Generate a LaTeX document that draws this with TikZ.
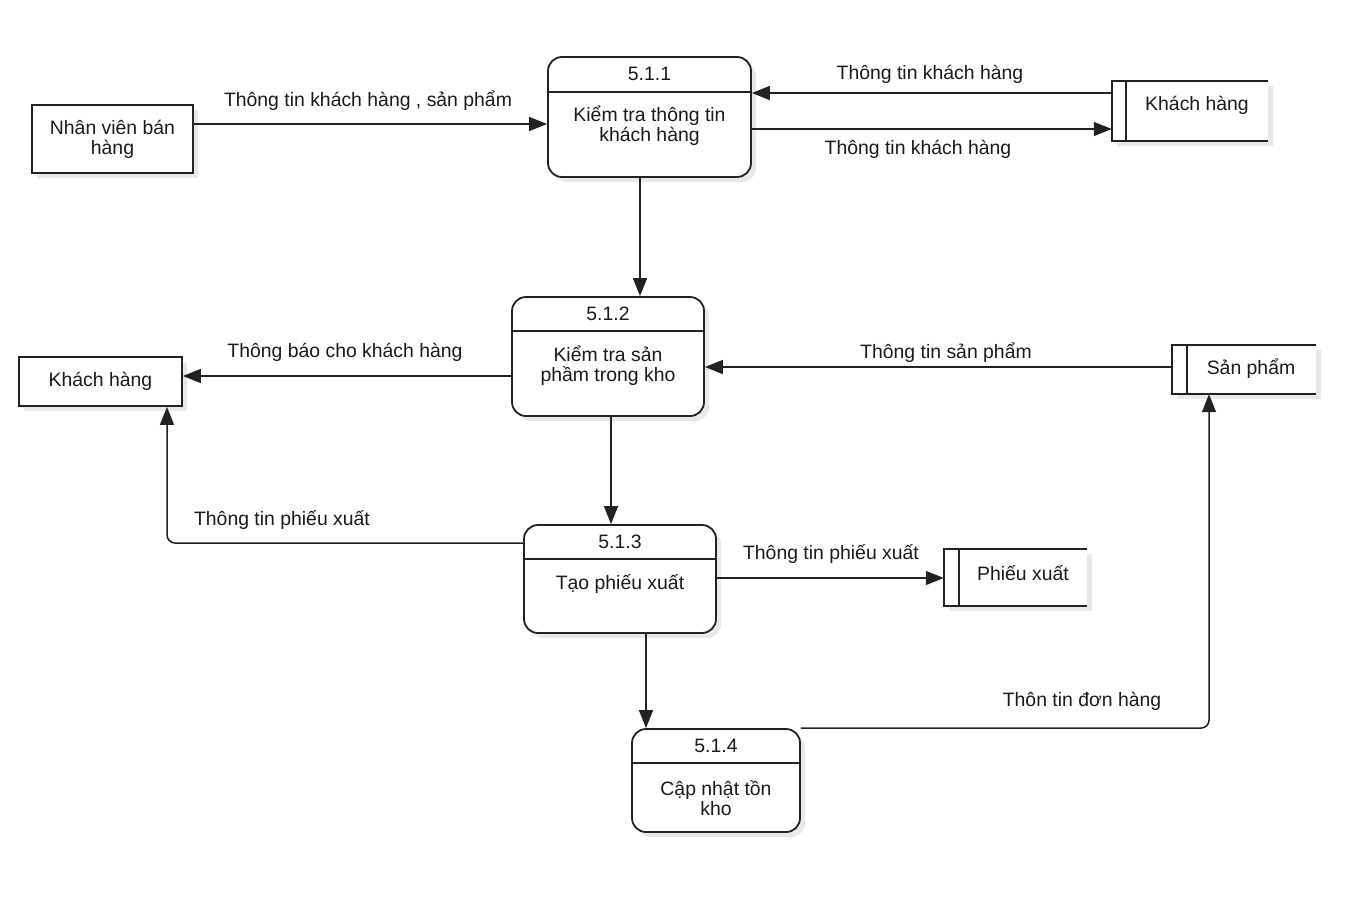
\documentclass[tikz,border=0pt]{standalone}
\usepackage{fontspec}
\setmainfont{Liberation Sans}
\usetikzlibrary{arrows.meta,shadows}
\definecolor{ink}{HTML}{222222}
\definecolor{txt}{HTML}{1A1A1A}
\begin{document}
\begin{tikzpicture}[x=1pt,y=-1pt,
  every node/.style={font=\fontsize{19.4}{20}\selectfont, text=txt},
  boxshadow/.style={drop shadow={shadow xshift=5pt, shadow yshift=-5pt, opacity=0.09, fill=black}},
  proc/.style={draw=ink, line width=1.8pt, rounded corners=14pt, fill=white, boxshadow, inner sep=0pt},
  ent/.style={draw=ink, line width=1.8pt, fill=white, boxshadow, inner sep=0pt},
  storebg/.style={fill=white, boxshadow, inner sep=0pt},
  storeline/.style={draw=ink, line width=1.8pt},
  divline/.style={draw=ink, line width=1.4pt},
  flow/.style={draw=ink, line width=1.5pt, -{Triangle[length=18pt,width=14pt]}},
  lbl/.style={inner sep=0pt, align=center},
  ptext/.style={inner sep=0pt, align=center}
]
\useasboundingbox (0,0) rectangle (1367,897);
\fill[white] (0,0) rectangle (1367,897);

% processes
\node[proc, minimum width=203pt, minimum height=120pt] (p1) at (649.5,117) {};
\node[proc, minimum width=192pt, minimum height=119pt] (p2) at (608,356.5) {};
\node[proc, minimum width=192pt, minimum height=108pt] (p3) at (620,579) {};
\node[proc, minimum width=168pt, minimum height=103pt] (p4) at (716,780.5) {};
\draw[divline] (p1.west |- 0,92) -- (p1.east |- 0,92);
\draw[divline] (p2.west |- 0,331) -- (p2.east |- 0,331);
\draw[divline] (p3.west |- 0,559) -- (p3.east |- 0,559);
\draw[divline] (p4.west |- 0,763) -- (p4.east |- 0,763);

\node[ptext] (p1n) at (649.5,74) {5.1.1};
\node[ptext] (p1t) at (649.5,126) {Kiểm tra thông tin\\khách hàng};
\node[ptext] (p2n) at (608,314) {5.1.2};
\node[ptext] (p2t) at (608,366) {Kiểm tra sản\\phầm trong kho};
\node[ptext] (p3n) at (620,542) {5.1.3};
\node[ptext] (p3t) at (620,584) {Tạo phiếu xuất};
\node[ptext] (p4n) at (716,746) {5.1.4};
\node[ptext] (p4t) at (716,798) {Cập nhật tồn\\kho};

% external entities
\node[ent, minimum width=161pt, minimum height=68pt] (nv) at (112.5,139) {};
\node[ptext] (nvt) at (112.5,139) {Nhân viên bán\\hàng};
\node[ent, minimum width=163pt, minimum height=49pt] (kl) at (100.5,381.5) {};
\node[ptext] (klt) at (100.5,381) {Khách hàng};

% data stores
\node[storebg, minimum width=156pt, minimum height=60pt] (ks) at (1190,111) {};
\draw[storeline] (ks.north east) -- (ks.north west) -- (ks.south west) -- (ks.south east);
\draw[storeline] (1126,0 |- ks.north) -- (1126,0 |- ks.south);
\node[ptext] (kst) at (1197,105) {Khách hàng};

\node[storebg, minimum width=144pt, minimum height=49pt] (sp) at (1244,369.5) {};
\draw[storeline] (sp.north east) -- (sp.north west) -- (sp.south west) -- (sp.south east);
\draw[storeline] (1187,0 |- sp.north) -- (1187,0 |- sp.south);
\node[ptext] (spt) at (1251,369) {Sản phẩm};

\node[storebg, minimum width=143pt, minimum height=57pt] (px) at (1015.5,577.5) {};
\draw[storeline] (px.north east) -- (px.north west) -- (px.south west) -- (px.south east);
\draw[storeline] (959,0 |- px.north) -- (959,0 |- px.south);
\node[ptext] (pxt) at (1023,573) {Phiếu xuất};

% flows
\draw[flow] (nv.east |- 0,124) -- (p1.west |- 0,124);
\draw[flow] (ks.west |- 0,93) -- (p1.east |- 0,93);
\draw[flow] (p1.east |- 0,129) -- (ks.west |- 0,129);
\draw[flow] (p1.south -| 640,0) -- (p2.north -| 640,0);
\draw[flow] (sp.west |- 0,367) -- (p2.east |- 0,367);
\draw[flow] (p2.west |- 0,376) -- (kl.east |- 0,376);
\draw[flow] (p2.south -| 611,0) -- (p3.north -| 611,0);
\draw[flow, rounded corners=8pt] (p3.west |- 0,543) -| (kl.south -| 167,0);
\draw[flow] (p3.east |- 0,578) -- (px.west |- 0,578);
\draw[flow] (p3.south -| 646,0) -- (p4.north -| 646,0);
\draw[flow, rounded corners=8pt] (p4.north east) -| (sp.south -| 1209,0);

% labels
\node[lbl] (l1) at (368,101) {Thông tin khách hàng , sản phẩm};
\node[lbl] (l2) at (930,74) {Thông tin khách hàng};
\node[lbl] (l3) at (918,149) {Thông tin khách hàng};
\node[lbl] (l4) at (345,352) {Thông báo cho khách hàng};
\node[lbl] (l5) at (946,353) {Thông tin sản phẩm};
\node[lbl] (l6) at (282,520) {Thông tin phiếu xuất};
\node[lbl] (l7) at (831,554) {Thông tin phiếu xuất};
\node[lbl] (l8) at (1082,701) {Thôn tin đơn hàng};
\end{tikzpicture}
\end{document}
